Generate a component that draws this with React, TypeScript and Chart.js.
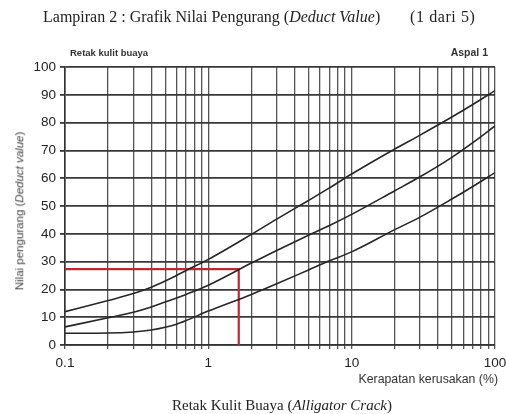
import React, { useEffect, useRef } from 'react';
import { Chart, registerables } from 'chart.js';

Chart.register(...registerables);

// ---- data ----
const densityPct = [0.1, 0.2, 0.3, 0.4, 0.5, 0.6, 0.7, 1, 2, 3, 5, 7, 10, 20, 30, 50, 70, 100];
const highSeverity = [12, 16, 18.5, 20.8, 23, 25, 26.8, 30.8, 39.8, 45.3, 52, 56.5, 61.5, 70.5, 75.5, 82, 86.5, 91.5];
const mediumSeverity = [6.5, 9.8, 11.8, 13.7, 15.5, 16.9, 18.2, 21.5, 29.5, 34, 39.5, 43, 47, 55.5, 60.5, 67.5, 72.8, 78.8];
const lowSeverity = [4.2, 4.3, 4.7, 5.4, 6.4, 7.5, 8.8, 12.2, 18.2, 22, 27, 30.3, 33.5, 41.5, 46, 52.5, 57, 62];

const exampleX = [0.1, 1.63, 1.63];
const exampleY = [27.3, 27.3, 0];

const xGridValues = [
  0.1, 0.2, 0.3, 0.4, 0.5, 0.6, 0.7, 0.8, 0.9,
  1, 2, 3, 4, 5, 6, 7, 8, 9,
  10, 20, 30, 40, 50, 60, 70, 80, 90, 100,
];
const xLabelledValues = [0.1, 1, 10, 100];
const yMin = 0;
const yMax = 100;
const yStep = 10;

const SANS = '"Liberation Sans", Arial, sans-serif';
const SERIF = '"Liberation Serif", "Times New Roman", serif';

const toPoints = (xs: number[], ys: number[]) => xs.map((x, i) => ({ x, y: ys[i] }));

export default function App() {
  const canvasRef = useRef<HTMLCanvasElement | null>(null);

  useEffect(() => {
    const canvas = canvasRef.current;
    if (!canvas) return;
    const curveStyle = {
      borderColor: '#262626',
      borderWidth: 1.6,
      pointRadius: 0,
      fill: false,
      cubicInterpolationMode: 'monotone' as const,
    };
    const chart = new Chart(canvas, {
      type: 'line',
      data: {
        datasets: [
          { label: 'High', data: toPoints(densityPct, highSeverity), ...curveStyle },
          { label: 'Medium', data: toPoints(densityPct, mediumSeverity), ...curveStyle },
          { label: 'Low', data: toPoints(densityPct, lowSeverity), ...curveStyle },
          {
            label: 'Example',
            data: toPoints(exampleX, exampleY),
            borderColor: '#c4262d',
            borderWidth: 2.2,
            pointRadius: 0,
            tension: 0,
            fill: false,
          },
        ],
      },
      options: {
        responsive: false,
        animation: false,
        layout: { padding: { top: 67, right: 11, bottom: 0, left: 0 } },
        plugins: {
          legend: { display: false },
          tooltip: { enabled: false },
          title: { display: false },
        },
        scales: {
          x: {
            type: 'logarithmic',
            position: 'bottom',
            min: 0.1,
            max: 100,
            afterBuildTicks: (s: any) => {
              s.ticks = xGridValues.map((v) => ({ value: v }));
            },
            afterFit: (s: any) => {
              s.height = 69;
              s.paddingLeft = 0;
              s.paddingRight = 0;
            },
            ticks: {
              autoSkip: false,
              maxRotation: 0,
              minRotation: 0,
              padding: 6,
              color: '#222',
              font: { family: SANS, size: 13.5 },
              callback: (v: any) => (xLabelledValues.includes(Number(v)) ? String(v) : ''),
            },
            grid: { color: '#555', lineWidth: 1.3, tickLength: 4, drawTicks: true },
            border: { color: '#333', width: 1.6 },
          },
          y: {
            type: 'linear',
            min: yMin,
            max: yMax,
            afterFit: (s: any) => {
              s.width = 65;
              s.paddingTop = 0;
              s.paddingBottom = 0;
            },
            ticks: {
              stepSize: yStep,
              padding: 4,
              color: '#222',
              font: { family: SANS, size: 13.5 },
            },
            grid: { color: '#383838', lineWidth: 1.8, tickLength: 5 },
            border: { color: '#333', width: 1.6 },
          },
        },
      },
    });
    return () => chart.destroy();
  }, []);

  const abs: React.CSSProperties = { position: 'absolute', whiteSpace: 'nowrap', lineHeight: 1 };

  return (
    <div style={{ position: 'absolute', left: 0, top: 0, width: 506, height: 414, background: '#fff', overflow: 'hidden' }}>
      <canvas ref={canvasRef} width={506} height={414} style={{ position: 'absolute', left: 0, top: 0 }} />
      <div style={{ ...abs, left: 43, top: 9, fontFamily: SERIF, fontSize: 16, color: '#222' }}>
        Lampiran 2 : Grafik Nilai Pengurang (<i>Deduct Value</i>)
      </div>
      <div style={{ ...abs, left: 410, top: 9, fontFamily: SERIF, fontSize: 16, letterSpacing: 0.6, color: '#222' }}>
        (1 dari 5)
      </div>
      <div style={{ ...abs, left: 70, top: 48, fontFamily: SANS, fontSize: 9.5, fontWeight: 'bold', color: '#333' }}>
        Retak kulit buaya
      </div>
      <div style={{ ...abs, right: 18, top: 47, fontFamily: SANS, fontSize: 10.5, fontWeight: 'bold', color: '#333' }}>
        Aspal 1
      </div>
      <div
        style={{
          ...abs,
          left: 20,
          top: 211,
          fontFamily: SANS,
          fontSize: 11.5,
          color: '#444',
          transform: 'translate(-50%, -50%) rotate(-90deg)',
        }}
      >
        Nilai pengurang (<i>Deduct value</i>)
      </div>
      <div style={{ ...abs, right: 8, top: 373, fontFamily: SANS, fontSize: 12.3, color: '#333' }}>
        Kerapatan kerusakan (%)
      </div>
      <div style={{ ...abs, left: 172, top: 398, fontFamily: SERIF, fontSize: 15, color: '#222' }}>
        Retak Kulit Buaya (<i>Alligator Crack</i>)
      </div>
    </div>
  );
}
